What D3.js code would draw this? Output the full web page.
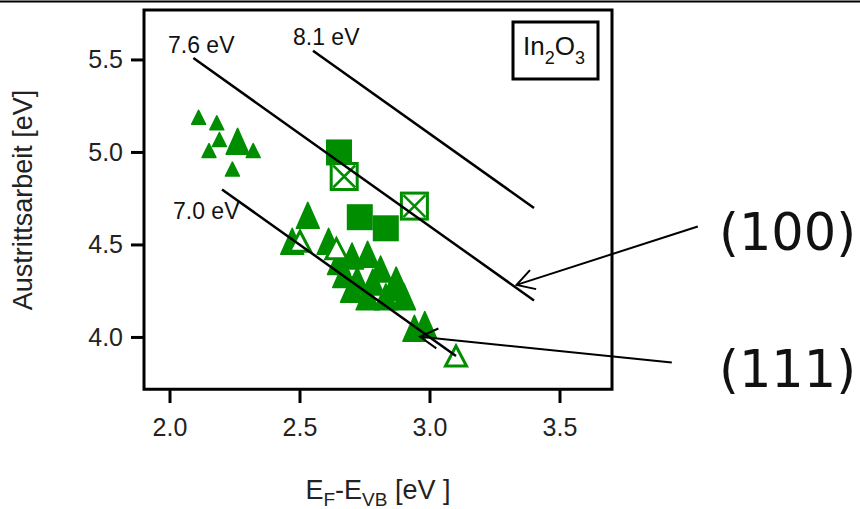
<!DOCTYPE html>
<html>
<head>
<meta charset="utf-8">
<script src="https://cdn.jsdelivr.net/npm/d3@7/dist/d3.min.js"></script>
<style>
  body { margin: 0; background: #fff; }
  svg { display: block; }
</style>
</head>
<body>
<div id="chart"></div>
<script>

// small filled triangles (upper left group)
var smallTri = [[2.11, 5.19], [2.18, 5.16], [2.19, 5.07], [2.15, 5.01], [2.32, 5.01], [2.24, 4.91]];

// big filled triangles
var bigTri = [[2.26, 5.06], [2.53, 4.66], [2.47, 4.52], [2.61, 4.52], [2.70, 4.44], [2.76, 4.45],
    [2.65, 4.41], [2.67, 4.34], [2.72, 4.31], [2.78, 4.30], [2.81, 4.37], [2.70, 4.26],
    [2.76, 4.22], [2.83, 4.22], [2.88, 4.27], [2.90, 4.22], [2.87, 4.31], [2.94, 4.05], [2.98, 4.07]];

// open triangles
var openTri = [[2.50, 4.52], [2.64, 4.48], [3.10, 3.90]];

// filled squares and crossed squares
var fillSq = [[2.65, 5.00], [2.73, 4.65], [2.83, 4.59]];
var crossSq = [[2.67, 4.87], [2.94, 4.71]];

// lines of constant ionisation potential: IP, from x, to x
var ipLines = [[7.0, 2.20, 3.10], [7.6, 2.09, 3.40], [8.1, 2.55, 3.40]];
var ipLabels = ["7.0 eV", "7.6 eV", "8.1 eV"];

var xTicks = [2.0, 2.5, 3.0, 3.5];
var yTicks = [4.0, 4.5, 5.0, 5.5];

// annotation arrows: label, start [x, y], tip [x, y]
var arrows = [["(100)", [4.03, 4.60], [3.333, 4.284]], ["(111)", [3.93, 3.864], [2.962, 4.004]]];

var green = "#008e00";

var svg = d3.select("#chart").append("svg")
    .attr("width", 860)
    .attr("height", 509);

var x = d3.scaleLinear().domain([1.9, 3.7]).range([144, 612]);
var y = d3.scaleLinear().domain([3.72, 5.77]).range([389.25, 10]);

// thin rule across the top
svg.append("line")
    .attr("x1", 0).attr("x2", 860)
    .attr("y1", 1.5).attr("y2", 1.5)
    .attr("stroke", "#000")
    .attr("stroke-width", 2);

function tri(w, h) {
    return "M0," + (-h / 2) + "L" + (w / 2) + "," + (h / 2) + "L" + (-w / 2) + "," + (h / 2) + "Z";
}

function place(d) { return "translate(" + x(d[0]) + "," + y(d[1]) + ")"; }

var marks = svg.append("g");

marks.selectAll(".small").data(smallTri).enter().append("path")
    .attr("class", "small")
    .attr("d", tri(14, 14))
    .attr("transform", place)
    .attr("fill", green)
    .attr("stroke", green)
    .attr("stroke-width", 1.5)
    .attr("stroke-linejoin", "round");

marks.selectAll(".big").data(bigTri).enter().append("path")
    .attr("class", "big")
    .attr("d", tri(23, 26))
    .attr("transform", place)
    .attr("fill", green)
    .attr("stroke", green)
    .attr("stroke-width", 1.5)
    .attr("stroke-linejoin", "round");

marks.selectAll(".open").data(openTri).enter().append("path")
    .attr("class", "open")
    .attr("d", tri(21, 20))
    .attr("transform", place)
    .attr("fill", "#fff")
    .attr("stroke", green)
    .attr("stroke-width", 3);

marks.selectAll(".sq").data(fillSq).enter().append("rect")
    .attr("class", "sq")
    .attr("x", -13).attr("y", -13)
    .attr("width", 26).attr("height", 26)
    .attr("transform", place)
    .attr("fill", green);

var cs = marks.selectAll(".xsq").data(crossSq).enter().append("g")
    .attr("class", "xsq")
    .attr("transform", place);

cs.append("rect")
    .attr("x", -13).attr("y", -13)
    .attr("width", 26).attr("height", 26)
    .attr("fill", "#fff")
    .attr("stroke", green)
    .attr("stroke-width", 3);

cs.append("path")
    .attr("d", "M-11,-11L11,11M11,-11L-11,11")
    .attr("stroke", green)
    .attr("stroke-width", 2.5);

// IP lines
svg.selectAll(".ip").data(ipLines).enter().append("line")
    .attr("class", "ip")
    .attr("x1", function (d) { return x(d[1]); })
    .attr("y1", function (d) { return y(d[0] - d[1]); })
    .attr("x2", function (d) { return x(d[2]); })
    .attr("y2", function (d) { return y(d[0] - d[2]); })
    .attr("stroke", "#000")
    .attr("stroke-width", 2.5);

var labelPos = [[173, 219], [168, 53], [293, 45]];
svg.selectAll(".iplab").data(ipLabels).enter().append("text")
    .attr("class", "iplab")
    .attr("x", function (d, i) { return labelPos[i][0]; })
    .attr("y", function (d, i) { return labelPos[i][1]; })
    .attr("font-family", "'Liberation Sans', Arial, sans-serif")
    .attr("font-size", "23px")
    .attr("fill", "#111")
    .text(function (d) { return d; });

// frame
svg.append("rect")
    .attr("x", x(1.9)).attr("y", y(5.77))
    .attr("width", x(3.7) - x(1.9))
    .attr("height", y(3.72) - y(5.77))
    .attr("fill", "none")
    .attr("stroke", "#000")
    .attr("stroke-width", 3);

// ticks
svg.selectAll(".yt").data(yTicks).enter().append("line")
    .attr("x1", 131).attr("x2", 144)
    .attr("y1", function (d) { return y(d); })
    .attr("y2", function (d) { return y(d); })
    .attr("stroke", "#000").attr("stroke-width", 3);

svg.selectAll(".ytl").data(yTicks).enter().append("text")
    .attr("x", 123)
    .attr("y", function (d) { return y(d) + 8.5; })
    .attr("text-anchor", "end")
    .attr("font-family", "'Liberation Sans', Arial, sans-serif")
    .attr("font-size", "25px")
    .attr("fill", "#222")
    .text(function (d) { return d.toFixed(1); });

svg.selectAll(".xt").data(xTicks).enter().append("line")
    .attr("x1", function (d) { return x(d); })
    .attr("x2", function (d) { return x(d); })
    .attr("y1", 389).attr("y2", 403)
    .attr("stroke", "#000").attr("stroke-width", 3);

svg.selectAll(".xtl").data(xTicks).enter().append("text")
    .attr("x", function (d) { return x(d); })
    .attr("y", 436)
    .attr("text-anchor", "middle")
    .attr("font-family", "'Liberation Sans', Arial, sans-serif")
    .attr("font-size", "25px")
    .attr("fill", "#222")
    .text(function (d) { return d.toFixed(1); });

// axis titles
var xl = svg.append("text")
    .attr("x", 378).attr("y", 499)
    .attr("text-anchor", "middle")
    .attr("font-family", "'Liberation Sans', Arial, sans-serif")
    .attr("font-size", "27px")
    .attr("fill", "#222");
xl.append("tspan").text("E");
xl.append("tspan").attr("font-size", "19px").attr("dy", 7).text("F");
xl.append("tspan").attr("dy", -7).text("-E");
xl.append("tspan").attr("font-size", "19px").attr("dy", 7).text("VB");
xl.append("tspan").attr("dy", -7).text(" [eV ]");

svg.append("text")
    .attr("transform", "translate(32,200) rotate(-90)")
    .attr("text-anchor", "middle")
    .attr("font-family", "'Liberation Sans', Arial, sans-serif")
    .attr("font-size", "27px")
    .attr("fill", "#222")
    .text("Austrittsarbeit [eV]");

// In2O3 box
svg.append("rect")
    .attr("x", 513).attr("y", 22)
    .attr("width", 85).attr("height", 57)
    .attr("fill", "#fff")
    .attr("stroke", "#000")
    .attr("stroke-width", 3);

var lg = svg.append("text")
    .attr("x", 523).attr("y", 55)
    .attr("font-family", "'Liberation Sans', Arial, sans-serif")
    .attr("font-size", "26px")
    .attr("fill", "#111");
lg.append("tspan").text("In");
lg.append("tspan").attr("font-size", "18px").attr("dy", 9).text("2");
lg.append("tspan").attr("dy", -9).text("O");
lg.append("tspan").attr("font-size", "18px").attr("dy", 9).text("3");

// annotation arrows with open heads
arrows.forEach(function (a) {
    var sx = x(a[1][0]), sy = y(a[1][1]), tx = x(a[2][0]), ty = y(a[2][1]);
    var ang = Math.atan2(sy - ty, sx - tx);
    var len = 20, spread = Math.PI / 6;
    svg.append("line")
        .attr("x1", sx).attr("y1", sy).attr("x2", tx).attr("y2", ty)
        .attr("stroke", "#000").attr("stroke-width", 2);
    svg.append("path")
        .attr("d", "M" + (tx + len * Math.cos(ang - spread)) + "," + (ty + len * Math.sin(ang - spread)) +
            "L" + tx + "," + ty +
            "L" + (tx + len * Math.cos(ang + spread)) + "," + (ty + len * Math.sin(ang + spread)))
        .attr("fill", "none")
        .attr("stroke", "#000").attr("stroke-width", 2);
});

svg.selectAll(".alab").data(arrows).enter().append("text")
    .attr("x", 719)
    .attr("y", function (d, i) { return i == 0 ? 250 : 387; })
    .attr("font-family", "'DejaVu Sans', sans-serif")
    .attr("font-size", "51px")
    .attr("fill", "#111")
    .text(function (d) { return d[0]; });

</script>
</body>
</html>
